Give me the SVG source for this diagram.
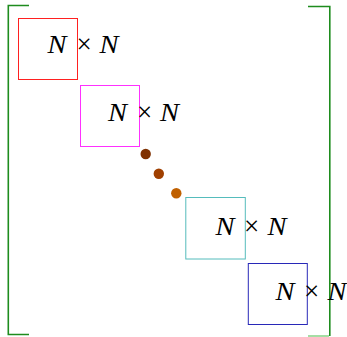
<svg xmlns="http://www.w3.org/2000/svg" width="347" height="337" viewBox="0 0 347 337">
  <style>
    .blk { fill: none; stroke-width: 1; }
    .lbl { font-family: "Liberation Serif", "DejaVu Serif", serif; font-size: 24.5px; fill: #000; }
    .it { font-style: italic; }
    .op { text-anchor: middle; font-size: 27px; }
    .brk { fill: none; stroke: #1e8c1e; stroke-width: 1.6; }
  </style>

  <!-- matrix brackets -->
  <g id="brackets">
    <path class="brk" d="M29,5.5 H8.3 V334.5 H29"/>
    <path class="brk" d="M308,6.5 H329.8 V336"/>
    <path d="M308,336 H329" stroke="#8fd68f" stroke-width="1.6" fill="none"/>
  </g>

  <g id="block1">
    <rect class="blk" x="18.5" y="18.5" width="59" height="61" stroke="#ff2020"/>
    <text class="lbl it" x="47.5" y="53.3" textLength="19" lengthAdjust="spacingAndGlyphs">N</text>
    <text class="lbl op" x="84" y="53.3">×</text>
    <text class="lbl it" x="99.5" y="53.3" textLength="19" lengthAdjust="spacingAndGlyphs">N</text>
  </g>

  <g id="block2">
    <rect class="blk" x="80.5" y="85.5" width="59" height="61" stroke="#ff30ff"/>
    <text class="lbl it" x="108" y="121" textLength="19" lengthAdjust="spacingAndGlyphs">N</text>
    <text class="lbl op" x="144.5" y="121">×</text>
    <text class="lbl it" x="160" y="121" textLength="19" lengthAdjust="spacingAndGlyphs">N</text>
  </g>

  <!-- diagonal ellipsis -->
  <g id="dots">
    <circle cx="145.7" cy="154" r="5.2" fill="#7f3000"/>
    <circle cx="158.8" cy="173.7" r="5.2" fill="#a04000"/>
    <circle cx="176.3" cy="193.3" r="5.2" fill="#c06000"/>
  </g>

  <g id="block3">
    <rect class="blk" x="185.8" y="197.5" width="59.5" height="61.5" stroke="#55bcbc"/>
    <text class="lbl it" x="215.5" y="235" textLength="19" lengthAdjust="spacingAndGlyphs">N</text>
    <text class="lbl op" x="251.7" y="235">×</text>
    <text class="lbl it" x="267.5" y="235" textLength="19" lengthAdjust="spacingAndGlyphs">N</text>
  </g>

  <g id="block4">
    <rect class="blk" x="248.3" y="263.5" width="59" height="61" stroke="#2828b8"/>
    <text class="lbl it" x="275.5" y="300" textLength="19" lengthAdjust="spacingAndGlyphs">N</text>
    <text class="lbl op" x="311.7" y="300">×</text>
    <text class="lbl it" x="327.5" y="300" textLength="19" lengthAdjust="spacingAndGlyphs">N</text>
  </g>
</svg>
